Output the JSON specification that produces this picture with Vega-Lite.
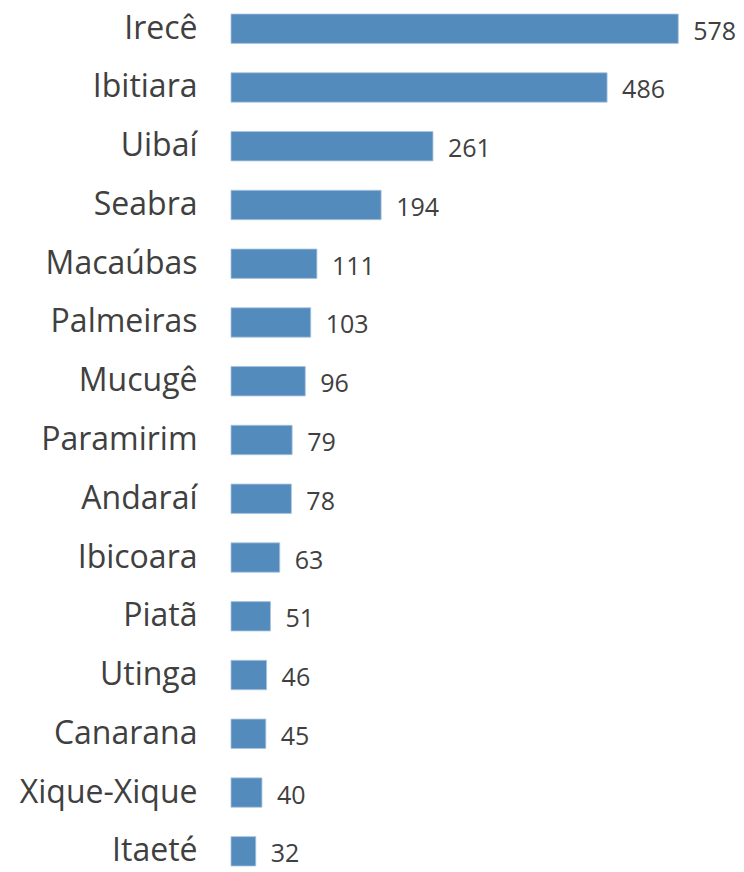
{
  "$schema": "https://vega.github.io/schema/vega-lite/v6.json",
  "width": 503,
  "height": 852,
  "autosize": {"type": "none"},
  "padding": {"left": 231, "top": 14, "right": 10, "bottom": 6},
  "background": "white",
  "config": {"view": {"stroke": null}, "font": "Open Sans"},
  "data": {"values": [
    {"municipio": "Irecê", "valor": 578},
    {"municipio": "Ibitiara", "valor": 486},
    {"municipio": "Uibaí", "valor": 261},
    {"municipio": "Seabra", "valor": 194},
    {"municipio": "Macaúbas", "valor": 111},
    {"municipio": "Palmeiras", "valor": 103},
    {"municipio": "Mucugê", "valor": 96},
    {"municipio": "Paramirim", "valor": 79},
    {"municipio": "Andaraí", "valor": 78},
    {"municipio": "Ibicoara", "valor": 63},
    {"municipio": "Piatã", "valor": 51},
    {"municipio": "Utinga", "valor": 46},
    {"municipio": "Canarana", "valor": 45},
    {"municipio": "Xique-Xique", "valor": 40},
    {"municipio": "Itaeté", "valor": 32}
  ]},
  "encoding": {
    "y": {"field": "municipio", "type": "nominal", "sort": null,
      "scale": {"paddingInner": 0.5, "paddingOuter": 0},
      "axis": {"title": null, "domain": false, "ticks": false, "labelPadding": 34,
        "labelFontSize": 32, "labelColor": "#404040", "labelLimit": 300, "labelFont": "Open Sans"}},
    "x": {"field": "valor", "type": "quantitative",
      "scale": {"domain": [0, 650], "nice": false}, "axis": null}
  },
  "layer": [
    {"mark": {"type": "bar", "color": "#548bbd", "stroke": "#a9c4de", "strokeWidth": 0.8}},
    {"mark": {"type": "text", "align": "left", "baseline": "middle", "dx": 15, "dy": 3,
      "fontSize": 25, "color": "#404040", "font": "Open Sans"},
     "encoding": {"text": {"field": "valor", "type": "quantitative"}}}
  ]
}
